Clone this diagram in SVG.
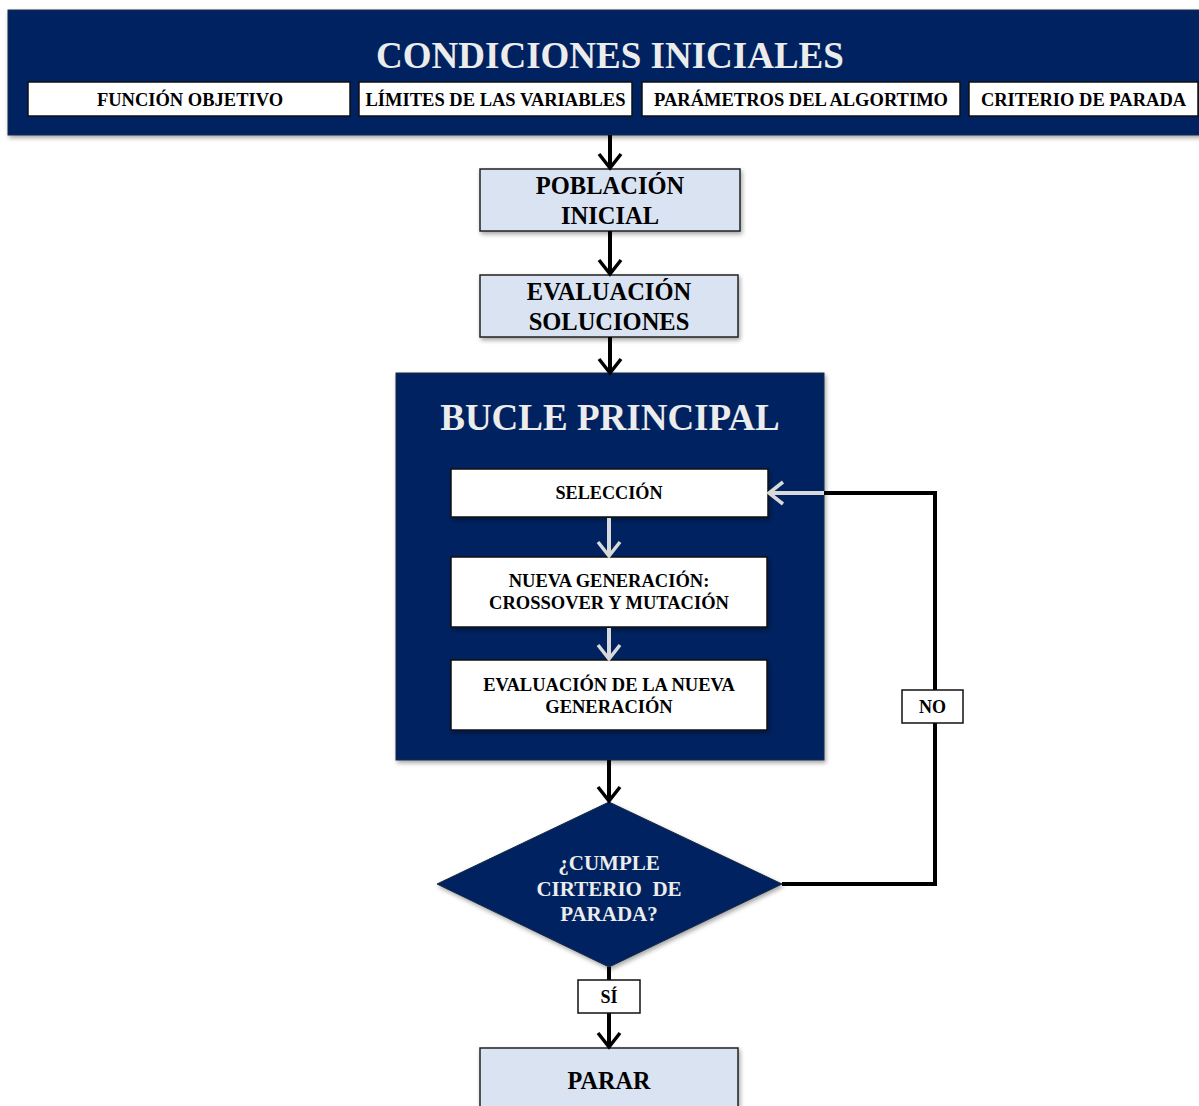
<svg xmlns="http://www.w3.org/2000/svg" width="1199" height="1106" viewBox="0 0 1199 1106" font-family="'Liberation Serif', 'DejaVu Serif', serif">
<style>
text{font-family:'Liberation Serif','DejaVu Serif',serif;font-weight:700;text-anchor:middle}
.navy{fill:#002060;stroke:#1a2a44;stroke-width:1}
.white{fill:#ffffff;stroke:#111;stroke-width:1.5}
.light{fill:#dae3f1;stroke:#222;stroke-width:1.5}
.lbl{fill:#000}
.ttl{fill:#ececec}
.blk{stroke:#000;stroke-width:4;fill:none}
.gry{stroke:#d9d9d9;stroke-width:4;fill:none}
</style>
<defs>
<filter id="sh" x="-10%" y="-10%" width="120%" height="130%">
<feDropShadow dx="1.5" dy="2.5" stdDeviation="2" flood-color="#000" flood-opacity="0.35"/>
</filter>
<marker id="ab" viewBox="0 0 24 28" refX="18" refY="14" markerWidth="24" markerHeight="28" markerUnits="userSpaceOnUse" orient="auto">
<path d="M4,3 L18,14 L4,25" fill="none" stroke="#000" stroke-width="3.5"/>
</marker>
<marker id="ag" viewBox="0 0 24 28" refX="18" refY="14" markerWidth="24" markerHeight="28" markerUnits="userSpaceOnUse" orient="auto">
<path d="M4,3 L18,14 L4,25" fill="none" stroke="#d9d9d9" stroke-width="3.5"/>
</marker>
</defs>

<g id="condiciones">
<rect class="navy" x="8" y="10" width="1195" height="125" filter="url(#sh)"/>
<text class="ttl" x="610" y="68" font-size="37">CONDICIONES INICIALES</text>
</g>
<g id="funcion">
<rect class="white" x="28" y="82" width="322" height="34"/>
<text class="lbl" x="190" y="106" font-size="18.5">FUNCIÓN OBJETIVO</text>
</g>
<g id="limites">
<rect class="white" x="359" y="82" width="273" height="34"/>
<text class="lbl" x="495.5" y="106" font-size="18.5">LÍMITES DE LAS VARIABLES</text>
</g>
<g id="parametros">
<rect class="white" x="642" y="82" width="318" height="34"/>
<text class="lbl" x="801" y="106" font-size="18.5">PARÁMETROS DEL ALGORTIMO</text>
</g>
<g id="criterio">
<rect class="white" x="969" y="82" width="229" height="34"/>
<text class="lbl" x="1083.5" y="106" font-size="18.5">CRITERIO DE PARADA</text>
</g>

<g id="poblacion">
<rect class="light" x="480" y="169" width="260" height="62" filter="url(#sh)"/>
<text class="lbl" x="610" y="194" font-size="24.5">POBLACIÓN</text>
<text class="lbl" x="610" y="224" font-size="24.5">INICIAL</text>
</g>
<g id="evaluacion">
<rect class="light" x="480" y="275" width="258" height="62" filter="url(#sh)"/>
<text class="lbl" x="609" y="300" font-size="24.5">EVALUACIÓN</text>
<text class="lbl" x="609" y="330" font-size="24.5">SOLUCIONES</text>
</g>

<g id="bucle">
<rect class="navy" x="396" y="373" width="428" height="387" filter="url(#sh)"/>
<text class="ttl" x="610" y="430" font-size="37">BUCLE PRINCIPAL</text>
</g>
<g id="seleccion">
<rect class="white" x="451" y="469" width="317" height="48" filter="url(#sh)"/>
<text class="lbl" x="609" y="499" font-size="18.2">SELECCIÓN</text>
</g>
<g id="nueva">
<rect class="white" x="451" y="557" width="316" height="70" filter="url(#sh)"/>
<text class="lbl" x="609" y="587" font-size="18.5">NUEVA GENERACIÓN:</text>
<text class="lbl" x="609" y="609" font-size="18.5">CROSSOVER Y MUTACIÓN</text>
</g>
<g id="evalnueva">
<rect class="white" x="451" y="660" width="316" height="70" filter="url(#sh)"/>
<text class="lbl" x="609" y="691" font-size="18.5">EVALUACIÓN DE LA NUEVA</text>
<text class="lbl" x="609" y="713" font-size="18.5">GENERACIÓN</text>
</g>

<g id="decision">
<polygon class="navy" points="609,802 782,884 609,967 437,884" filter="url(#sh)"/>
<text class="ttl" x="609" y="870" font-size="21">¿CUMPLE</text>
<text class="ttl" x="609" y="896" font-size="21" xml:space="preserve">CIRTERIO  DE</text>
<text class="ttl" x="609" y="921" font-size="21">PARADA?</text>
</g>

<g id="parar">
<rect class="light" x="480" y="1048" width="258" height="70" filter="url(#sh)"/>
<text class="lbl" x="609" y="1089" font-size="24.2">PARAR</text>
</g>

<g id="connectors">
<line class="blk" x1="610" y1="135" x2="610" y2="168" marker-end="url(#ab)"/>
<line class="blk" x1="610" y1="231" x2="610" y2="274" marker-end="url(#ab)"/>
<line class="blk" x1="610" y1="337" x2="610" y2="373" marker-end="url(#ab)"/>
<line class="gry" x1="609" y1="518" x2="609" y2="556" marker-end="url(#ag)"/>
<line class="gry" x1="609" y1="628" x2="609" y2="659" marker-end="url(#ag)"/>
<line class="blk" x1="609" y1="760" x2="609" y2="801" marker-end="url(#ab)"/>
<polyline class="blk" points="782,884 935,884 935,493 824,493"/>
<line class="gry" x1="824" y1="493" x2="769" y2="493" marker-end="url(#ag)"/>
<line class="blk" x1="609" y1="967" x2="609" y2="1047" marker-end="url(#ab)"/>
</g>

<g id="no">
<rect class="white" x="902" y="690" width="61" height="33"/>
<text class="lbl" x="932.5" y="713" font-size="18">NO</text>
</g>
<g id="si">
<rect class="white" x="578" y="980" width="62" height="33"/>
<text class="lbl" x="609" y="1003" font-size="18">SÍ</text>
</g>
</svg>
